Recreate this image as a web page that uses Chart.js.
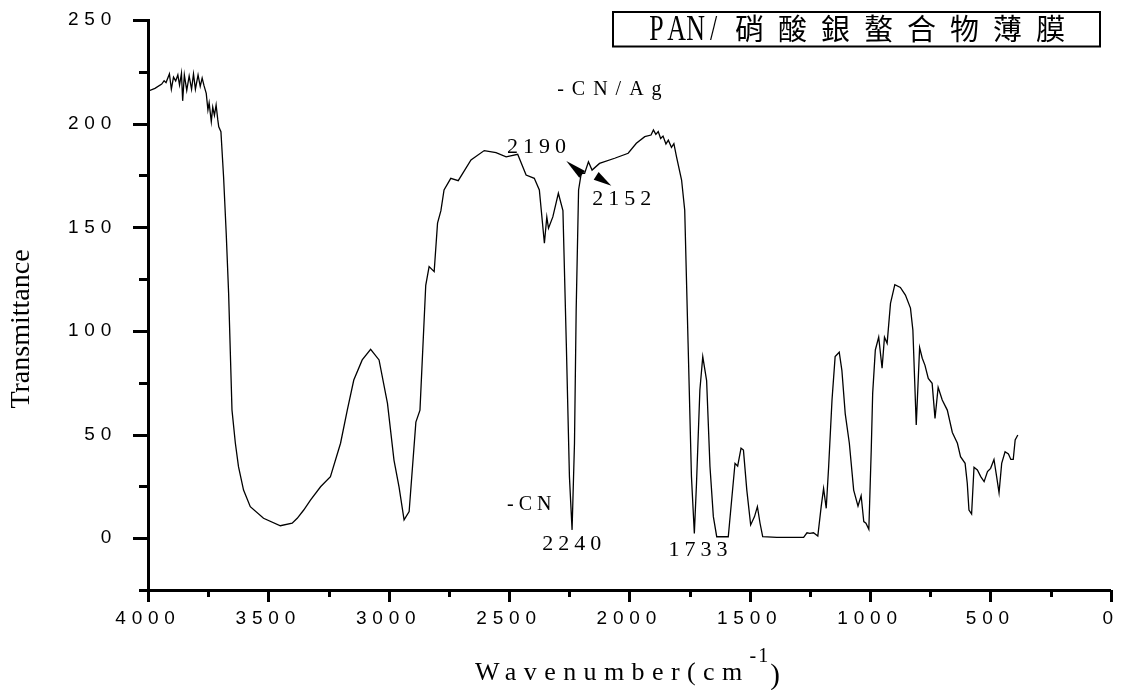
<!DOCTYPE html>
<html>
<head>
<meta charset="utf-8">
<script src="https://cdn.jsdelivr.net/npm/chart.js@4.4.0/dist/chart.umd.min.js"></script>
<style>
  html, body { margin: 0; padding: 0; background: #fff; }
  #wrap { width: 1125px; height: 690px; position: relative; }
</style>
</head>
<body>
<div id="wrap"><canvas id="irChart"></canvas></div>
<script>
// IR spectrum (wavenumber in cm-1, transmittance)
const wavenumbers = [
  4000, 3971, 3943, 3933, 3925, 3911, 3903, 3894, 3885, 3876, 3869, 3861, 3856, 3849, 3839, 3829,
  3819, 3811, 3803, 3792, 3783, 3775, 3767, 3758, 3751, 3746, 3737, 3731, 3724, 3717, 3710, 3706,
  3697, 3686, 3675, 3665, 3651, 3637, 3624, 3603, 3575, 3520, 3450, 3401, 3380, 3353, 3325, 3283,
  3242, 3200, 3172, 3145, 3110, 3075, 3040, 3005, 2978, 2957, 2936, 2915, 2887, 2870, 2846, 2832,
  2811, 2797, 2783, 2770, 2742, 2711, 2658, 2603, 2554, 2512, 2464, 2429, 2395, 2374, 2353, 2343,
  2336, 2318, 2295, 2276, 2262, 2249, 2238, 2228, 2221, 2211, 2200, 2186, 2170, 2155, 2124, 2061,
  2005, 1971, 1936, 1910, 1900, 1890, 1880, 1870, 1860, 1848, 1838, 1825, 1815, 1804, 1783, 1770,
  1756, 1742, 1730, 1721, 1707, 1695, 1679,
  1665, 1651, 1637, 1589, 1575, 1561, 1550, 1536, 1526, 1512, 1496, 1480, 1468, 1457, 1446, 1387,
  1276, 1262, 1250, 1235, 1217, 1203, 1193, 1182, 1172, 1158, 1145, 1128, 1117, 1103, 1086, 1068,
  1050, 1037, 1026, 1017, 1005, 995, 989, 978, 964, 950, 940, 929, 915, 897, 874, 853,
  832, 822, 808, 794, 783, 772, 758, 742, 730, 717, 700, 679, 658, 637, 624, 605,
  596, 589, 578, 568, 554, 540, 526, 512, 499, 485, 474, 464, 453, 439, 425, 415,
  405, 397, 386
];
const transmittance = [
  215.7, 217, 219.1, 220.7, 219.8, 224, 216.6, 222.4, 220.6, 223.5, 218.6, 224.3, 211, 223.5, 216, 223,
  216.6, 224, 216.6, 223.5, 218, 222, 218.2, 214.6, 206.6, 210, 201, 208, 204, 209, 201.8, 198.5,
  196.1, 174.4, 147, 118, 61.8, 45.8, 34.5, 23.2, 15.2, 9.6, 6, 7.2, 9.6, 13.6, 18.4, 24.8,
  29.7, 45.8, 61.8, 76.3, 86, 91.1, 86, 65, 37.7, 24.8, 8.8, 12.8, 56, 61.8, 122, 131,
  128.6, 152, 158, 168, 173.6, 172.5, 182.5, 187, 186, 184, 185.2, 175.2, 173.6, 168, 142.3, 155,
  149.5, 155, 166.4, 158, 94, 29.7, 4, 45.8, 110, 168, 176, 176, 181.6, 177.6, 180.8, 183.3,
  185.7, 190.5, 193.7, 194.5, 197, 194.8, 196.2, 192.8, 194, 190.2, 192, 188.5, 190.3, 184, 172.8, 158.3,
  94, 29.7, 2.3, 26.5, 71.5, 87.6, 76,
  34.5, 10.4, 0.7, 0.7, 18.4, 36.1, 34.8, 43.4, 42.5, 23.2, 6.4, 10.4, 15.2, 7.2, 0.7, 0.4,
  0.4, 2.6, 2.3, 2.6, 1, 15.2, 24, 14.4, 34.5, 66.7, 87.6, 89.7, 81, 60, 45.8, 23.2,
  15.5, 20.5, 8, 7.2, 4.3, 42.5, 70, 90.8, 97, 82, 97, 94, 113.3, 122.3, 121, 117.3,
  111, 100.4, 54.6, 92, 86.8, 83.5, 77.1, 74.7, 57.8, 72.8, 66.7, 61.8, 51, 45.8, 39.3, 36.1,
  26.5, 13.6, 11.7, 34.2, 32.9, 29.7, 27.3, 32.1, 33.7, 38, 29.7, 21.9, 36.1, 41.7, 40.6, 38,
  38, 47.4, 49.8
];

// axis ranges and steps
const xRange = [0, 4000];
const xMinorStep = 250;
const xLabelStep = 500;
const yRange = [-25, 250];
const yMinorStep = 25;
const yLabelStep = 50;

// peak labels, placed in data units (left edge, baseline)
const peakLabels = [
  { text: '-CN/Ag', wn: 2300, t: 213.8, size: 20, gap: 8 },
  { text: '2190', wn: 2508, t: 185.8, size: 22, gap: 5 },
  { text: '2152', wn: 2154, t: 160.7, size: 22, gap: 5 },
  { text: '-CN', wn: 2508, t: 13.6, size: 20, gap: 5 },
  { text: '2240', wn: 2362, t: -5.7, size: 22, gap: 5 },
  { text: '1733', wn: 1837, t: -8.6, size: 22, gap: 5 }
];
// little arrow heads: tip -> broad end
const arrowHeads = [
  { tip: [2262, 182], base: [2196, 175.5] },
  { tip: [2075, 170], base: [2138, 174.8] }
];

const titleText = 'PAN/硝酸銀螯合物薄膜';

const points = wavenumbers.map((w, i) => ({ x: w, y: transmittance[i] }));

const serif = '"Liberation Serif", "Times New Roman", serif';

const decor = {
  id: 'decor',
  beforeDraw(chart) {
    chart.ctx.letterSpacing = '5.8px';
  },
  afterDraw(chart) {
    const { ctx, scales } = chart;
    const xs = scales.x, ys = scales.y;
    const area = chart.chartArea;
    ctx.save();
    ctx.letterSpacing = '0px';
    ctx.fillStyle = '#000';
    ctx.strokeStyle = '#000';

    // tick marks, major longer than minor
    ctx.lineWidth = 3;
    ctx.beginPath();
    ys.ticks.forEach(t => {
      const py = Math.round(ys.getPixelForValue(t.value)) + 0.5;
      const len = t.value % yLabelStep === 0 ? 15 : 9;
      ctx.moveTo(area.left, py);
      ctx.lineTo(area.left - len, py);
    });
    xs.ticks.forEach(t => {
      const px = Math.round(xs.getPixelForValue(t.value)) + 0.5;
      const len = t.value % xLabelStep === 0 ? 12 : 7;
      ctx.moveTo(px, area.bottom);
      ctx.lineTo(px, area.bottom + len);
    });
    ctx.stroke();

    // peak labels
    ctx.textAlign = 'left';
    ctx.textBaseline = 'alphabetic';
    peakLabels.forEach(l => {
      ctx.font = l.size + 'px ' + serif;
      ctx.letterSpacing = l.gap + 'px';
      ctx.fillText(l.text, xs.getPixelForValue(l.wn), ys.getPixelForValue(l.t));
    });

    // arrow heads
    arrowHeads.forEach(a => {
      const tx = xs.getPixelForValue(a.tip[0]), ty = ys.getPixelForValue(a.tip[1]);
      const bx = xs.getPixelForValue(a.base[0]), by = ys.getPixelForValue(a.base[1]);
      const dx = bx - tx, dy = by - ty, d = Math.hypot(dx, dy);
      const nx = -dy / d * 4.5, ny = dx / d * 4.5;
      ctx.beginPath();
      ctx.moveTo(tx, ty);
      ctx.lineTo(bx + nx, by + ny);
      ctx.lineTo(bx - nx, by - ny);
      ctx.closePath();
      ctx.fill();
    });

    // x axis title with superscript
    ctx.font = '26px ' + serif;
    ctx.letterSpacing = '7.4px';
    let tx = 475;
    const base = 680;
    ctx.fillText('Wavenumber(cm', tx, base);
    tx += ctx.measureText('Wavenumber(cm').width;
    ctx.font = '20px ' + serif;
    ctx.letterSpacing = '2px';
    ctx.fillText('-1', tx, base - 18);
    tx += ctx.measureText('-1').width;
    ctx.font = '29px ' + serif;
    ctx.letterSpacing = '0px';
    ctx.fillText(')', tx, base + 4);

    // y axis title
    ctx.save();
    ctx.translate(22, 329);
    ctx.rotate(-Math.PI / 2);
    ctx.textAlign = 'center';
    ctx.textBaseline = 'middle';
    ctx.font = '28px ' + serif;
    ctx.fillText('Transmittance', 0, 0);
    ctx.restore();

    // boxed title
    ctx.lineWidth = 2;
    ctx.strokeRect(613, 12, 487, 34.5);
    ctx.textAlign = 'center';
    ctx.textBaseline = 'alphabetic';
    const latin = titleText.slice(0, 4);
    const latinX = [656.5, 676.5, 695.5, 713.5];
    ctx.font = '36px ' + serif;
    [...latin].forEach((ch, i) => {
      ctx.save();
      ctx.translate(latinX[i], 39.5);
      ctx.scale(0.72, 1);
      ctx.fillText(ch, 0, 0);
      ctx.restore();
    });
    ctx.font = '29px "Noto Sans CJK TC", "Noto Sans CJK SC", sans-serif';
    ctx.textBaseline = 'middle';
    [...titleText.slice(4)].forEach((ch, i) => {
      ctx.fillText(ch, 749.5 + i * 43, 29);
    });
    ctx.restore();
  }
};

new Chart(document.getElementById('irChart'), {
  type: 'line',
  data: {
    datasets: [{
      data: points,
      borderColor: '#000',
      borderWidth: 1.3,
      pointRadius: 0,
      fill: false,
      tension: 0
    }]
  },
  options: {
    responsive: true,
    maintainAspectRatio: false,
    animation: false,
    events: [],
    layout: { padding: { top: 20, right: 12, left: 0, bottom: 0 } },
    plugins: { legend: { display: false }, tooltip: { enabled: false } },
    scales: {
      x: {
        type: 'linear',
        reverse: true,
        min: xRange[0],
        max: xRange[1],
        afterFit: s => { s.height = 100; },
        grid: { display: false },
        border: { display: true, color: '#000', width: 3 },
        ticks: {
          stepSize: xMinorStep,
          autoSkip: false,
          maxRotation: 0,
          padding: 9,
          color: '#000',
          font: { family: '"Liberation Sans", Arial, sans-serif', size: 19 },
          callback: v => (v % xLabelStep === 0 ? String(v) : '')
        }
      },
      y: {
        min: yRange[0],
        max: yRange[1],
        afterFit: s => { s.width = 148; s.paddingTop = 0; s.paddingBottom = 0; },
        grid: { display: false },
        border: { display: true, color: '#000', width: 3 },
        ticks: {
          stepSize: yMinorStep,
          autoSkip: false,
          padding: 23,
          color: '#000',
          font: { family: '"Liberation Sans", Arial, sans-serif', size: 19 },
          callback: v => (v % yLabelStep === 0 ? String(v) : '')
        }
      }
    }
  },
  plugins: [decor]
});
</script>
</body>
</html>
